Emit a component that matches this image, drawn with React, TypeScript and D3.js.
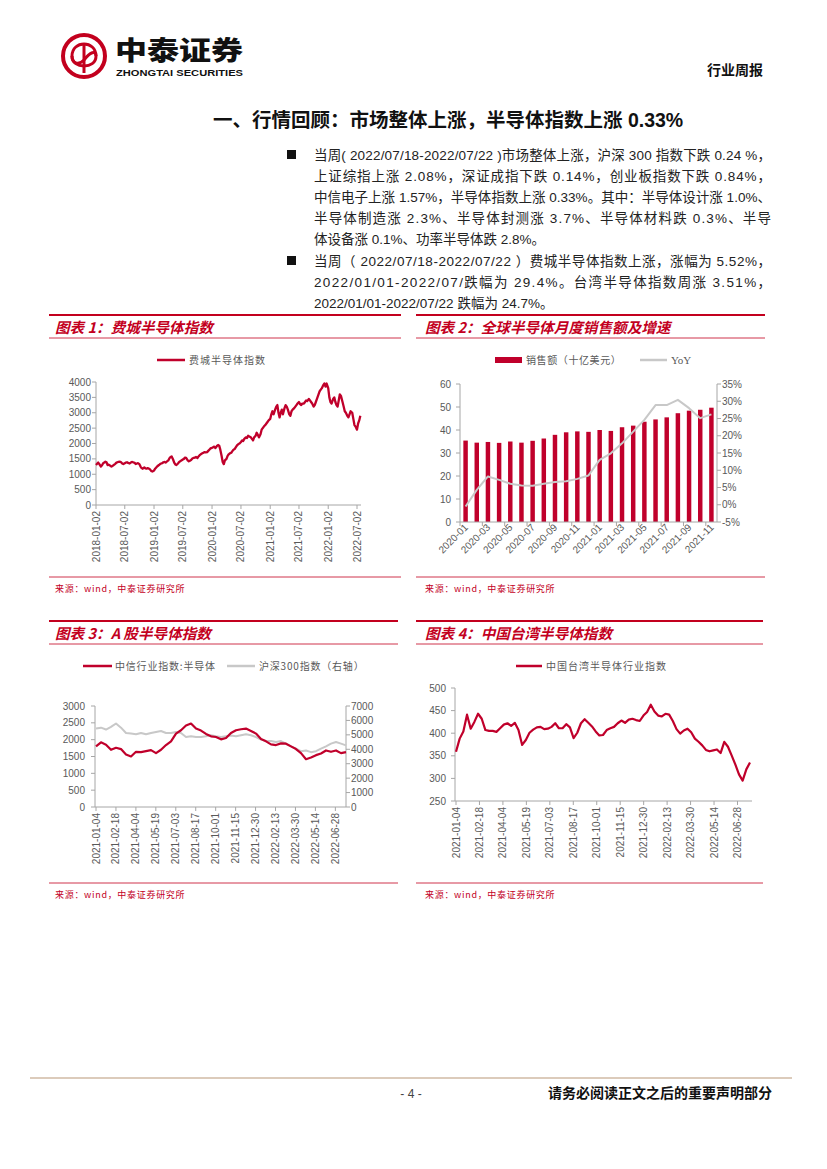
import React from 'react';
import * as d3 from 'd3';

const RED = '#c0002b';
const PANEL_RED = '#c3001e';
const GRAY_TXT = '#595959';
const AXIS = '#a6a6a6';
const LINE_GRAY = '#c8c8c8';
const NUM = '"Liberation Sans", Arial, sans-serif';
const CJK = '"Noto Sans CJK SC", "Liberation Sans", sans-serif';
const MIX = '"Liberation Sans", "Noto Sans CJK SC", sans-serif';

// ---------- text ----------
const titleText = '一、行情回顾：市场整体上涨，半导体指数上涨 0.33%';
const bullet1 = [
  '当周( 2022/07/18-2022/07/22 )市场整体上涨，沪深 300 指数下跌 0.24 %，',
  '上证综指上涨 2.08%，深证成指下跌 0.14%，创业板指数下跌 0.84%，',
  '中信电子上涨 1.57%，半导体指数上涨 0.33%。其中：半导体设计涨 1.0%、',
  '半导体制造涨 2.3%、半导体封测涨 3.7%、半导体材料跌 0.3%、半导',
  '体设备涨 0.1%、功率半导体跌 2.8%。',
];
const bullet2 = [
  '当周（ 2022/07/18-2022/07/22 ）费城半导体指数上涨，涨幅为 5.52%，',
  '2022/01/01-2022/07/跌幅为 29.4%。台湾半导体指数周涨 3.51%，',
  '2022/01/01-2022/07/22 跌幅为 24.7%。',
];

// ---------- chart 1: Philadelphia semiconductor index (weekly, 4 per month) ----------
const soxYears = [2018, 2019, 2020, 2021, 2022];
const sox2018 = [1300, 1340, 1380, 1330, 1250, 1290, 1360, 1380, 1410, 1390, 1300, 1310, 1280, 1250, 1270, 1300,
  1330, 1370, 1390, 1400, 1410, 1390, 1350, 1330, 1360, 1380, 1390, 1370, 1350, 1380, 1400, 1390,
  1370, 1330, 1350, 1360, 1330, 1250, 1200, 1180, 1220, 1190, 1180, 1200, 1180, 1150, 1100, 1090];
const sox2019 = [1120, 1180, 1220, 1260, 1300, 1330, 1350, 1360, 1390, 1400, 1380, 1410, 1450, 1520, 1560, 1580,
  1480, 1380, 1320, 1300, 1350, 1400, 1420, 1450, 1480, 1500, 1540, 1530, 1450, 1420, 1440, 1460,
  1520, 1530, 1540, 1560, 1530, 1580, 1620, 1650, 1680, 1700, 1720, 1710, 1720, 1760, 1800, 1840];
const sox2020 = [1860, 1880, 1900, 1850, 1920, 1950, 1930, 1800, 1600, 1400, 1330, 1450, 1500, 1600, 1650, 1680,
  1700, 1750, 1800, 1820, 1900, 1950, 1980, 2000, 2050, 2100, 2080, 2150, 2200, 2180, 2250, 2230,
  2200, 2150, 2100, 2200, 2250, 2350, 2280, 2200, 2300, 2450, 2500, 2550, 2600, 2650, 2700, 2750];
const sox2021 = [2800, 2950, 3050, 2950, 3100, 3200, 3250, 3000, 2850, 3000, 3100, 2950, 3150, 3250, 3200, 3100,
  2950, 2900, 3050, 3100, 3150, 3200, 3250, 3300, 3350, 3280, 3250, 3300, 3300, 3350, 3400, 3380,
  3450, 3400, 3350, 3300, 3200, 3250, 3350, 3450, 3600, 3700, 3750, 3800, 3900, 3950, 3850, 3950];
const sox2022 = [3800, 3500, 3350, 3300, 3450, 3500, 3350, 3250, 3200, 3400, 3600, 3550, 3350, 3200, 3050, 3000,
  2900, 2850, 2950, 3050, 3000, 2800, 2600, 2550, 2450, 2650, 2750, 2900];
const soxTicks = ['2018-01-02', '2018-07-02', '2019-01-02', '2019-07-02', '2020-01-02', '2020-07-02',
  '2021-01-02', '2021-07-02', '2022-01-02', '2022-07-02'];
const soxYTicks = [0, 500, 1000, 1500, 2000, 2500, 3000, 3500, 4000];

// ---------- chart 2: global semiconductor monthly sales ----------
const salesMonths = ['2020-01', '2020-02', '2020-03', '2020-04', '2020-05', '2020-06', '2020-07', '2020-08',
  '2020-09', '2020-10', '2020-11', '2020-12', '2021-01', '2021-02', '2021-03', '2021-04', '2021-05', '2021-06',
  '2021-07', '2021-08', '2021-09', '2021-10', '2021-11'];
const salesValues = [35.4, 34.5, 34.8, 34.4, 35.0, 34.5, 35.3, 36.3, 37.9, 39.0, 39.4, 39.2, 40.0, 39.6, 41.2,
  41.9, 43.6, 44.6, 45.5, 47.3, 48.4, 48.8, 49.7];
const salesYoY = [-0.5, 4.3, 8.2, 7.2, 6.1, 5.6, 5.5, 6.1, 6.6, 6.8, 7.5, 8.5, 13.0, 14.9, 17.8, 21.2, 24.6,
  28.9, 28.9, 30.4, 28.0, 25.1, 26.2];
const salesLeftTicks = [0, 10, 20, 30, 40, 50, 60];
const salesRightTicks = [-5, 0, 5, 10, 15, 20, 25, 30, 35];

// ---------- chart 3: A-share semiconductor vs CSI 300 (evenly spaced samples) ----------
const csiSemi = [1800, 1920, 1850, 1700, 1760, 1720, 1560, 1500, 1640, 1630, 1660, 1690, 1600, 1700, 1840,
  1950, 2180, 2280, 2420, 2480, 2330, 2270, 2170, 2100, 2080, 2010, 2050, 2200, 2280, 2310, 2330, 2260,
  2180, 2020, 1950, 1860, 1840, 1890, 1880, 1800, 1720, 1600, 1420, 1470, 1540, 1590, 1680, 1640, 1680,
  1600, 1630];
const csi300 = [5440, 5500, 5370, 5550, 5790, 5500, 5130, 5090, 5040, 5130, 5040, 5130, 5200, 5270, 5130,
  5130, 5200, 5130, 4850, 4900, 4850, 4850, 4900, 4970, 4900, 4850, 4900, 4950, 4900, 4970, 5040, 4970,
  4850, 4670, 4570, 4570, 4500, 4570, 4390, 4200, 4040, 3870, 3920, 3800, 3870, 4040, 4200, 4390, 4500,
  4390, 4270];
const dayTicks = ['2021-01-04', '2021-02-18', '2021-04-04', '2021-05-19', '2021-07-03', '2021-08-17',
  '2021-10-01', '2021-11-15', '2021-12-30', '2022-02-13', '2022-03-30', '2022-05-14', '2022-06-28'];
const semiLeftTicks = [0, 500, 1000, 1500, 2000, 2500, 3000];
const semiRightTicks = [0, 1000, 2000, 3000, 4000, 5000, 6000, 7000];

// ---------- chart 4: Taiwan semiconductor index (weekly) ----------
const twSemi = [359, 388, 404, 441, 410, 425, 443, 432, 407, 405, 405, 403, 411, 419, 422, 416, 423, 407,
  374, 385, 401, 408, 413, 414, 409, 410, 414, 422, 411, 411, 420, 413, 389, 401, 422, 431, 423, 415,
  404, 395, 396, 407, 411, 414, 422, 428, 423, 430, 432, 429, 427, 439, 447, 463, 448, 439, 437, 443,
  441, 427, 409, 399, 406, 410, 402, 388, 381, 373, 363, 360, 362, 364, 356, 381, 370, 351, 331, 309,
  295, 320, 335];
const twTicks = [250, 300, 350, 400, 450, 500];

const parse = d3.timeParse('%Y-%m-%d');
const START = parse('2021-01-04') as Date;
const END = parse('2022-07-22') as Date;

function Panel({ x0, x1, top, title, bottom, srcY, tx }: any) {
  return (
    <g>
      <line x1={x0} x2={x1} y1={top} y2={top} stroke={PANEL_RED} strokeWidth={2} />
      <text x={tx} y={top + 18} fill={PANEL_RED} fontFamily={CJK} fontSize={14.6} fontWeight="bold"
        fontStyle="italic">{title}</text>
      <line x1={x0} x2={x1} y1={top + 23} y2={top + 23} stroke={PANEL_RED} strokeWidth={0.8} />
      <line x1={x0} x2={x1} y1={bottom} y2={bottom} stroke={PANEL_RED} strokeWidth={0.8} />
      <text x={tx} y={srcY} fill={PANEL_RED} fontFamily={CJK} fontSize={9} letterSpacing={0.7}>来源：wind，中泰证券研究所</text>
    </g>
  );
}

function YAxis({ x, scale, ticks, side, fmt, labelGap }: any) {
  const dir = side === 'left' ? -1 : 1;
  const [r0, r1] = scale.range();
  return (
    <g>
      <line x1={x} x2={x} y1={r0} y2={r1} stroke={AXIS} strokeWidth={1} />
      {ticks.map((t: number) => (
        <g key={t}>
          <line x1={x} x2={x + dir * 4} y1={scale(t)} y2={scale(t)} stroke={AXIS} strokeWidth={1} />
          <text x={x + dir * labelGap} y={scale(t) + 3.6} textAnchor={side === 'left' ? 'end' : 'start'}
            fill={GRAY_TXT} fontFamily={NUM} fontSize={10}>{fmt ? fmt(t) : t}</text>
        </g>
      ))}
    </g>
  );
}

function TimeXAxis({ y, scale, ticks, x0, x1 }: any) {
  return (
    <g>
      <line x1={x0} x2={x1} y1={y} y2={y} stroke={AXIS} strokeWidth={1} />
      {ticks.map((t: string) => {
        const xx = scale(parse(t));
        return (
          <g key={t}>
            <line x1={xx} x2={xx} y1={y} y2={y + 4} stroke={AXIS} strokeWidth={1} />
            <text transform={`translate(${xx + 3.5},${y + 6}) rotate(-90)`} textAnchor="end" fill={GRAY_TXT}
              fontFamily={NUM} fontSize={10}>{t}</text>
          </g>
        );
      })}
    </g>
  );
}

function Chart1() {
  const x = d3.scaleTime().domain([parse('2018-01-02') as Date, parse('2022-07-02') as Date]).range([96, 357]);
  const y = d3.scaleLinear().domain([0, 4000]).range([505, 382]);
  const all = [sox2018, sox2019, sox2020, sox2021, sox2022];
  const data = all.flatMap((vals, yi) =>
    vals.map((v, i) => ({ d: new Date(soxYears[yi], Math.floor(i / 4), 2 + 7 * (i % 4)), v })));
  const line = d3.line<any>().x((p) => x(p.d)).y((p) => y(p.v)).curve(d3.curveLinear);
  return (
    <g>
      <Panel x0={49} x1={401} top={315} title="图表 1：费城半导体指数" bottom={577} srcY={592} tx={55} />
      <line x1={157} x2={185} y1={360} y2={360} stroke={RED} strokeWidth={2.5} />
      <text x={189} y={363.5} fill={GRAY_TXT} fontFamily={CJK} fontSize={10} letterSpacing={1}>费城半导体指数</text>
      <YAxis x={96} scale={y} ticks={soxYTicks} side="left" labelGap={5} />
      <TimeXAxis y={505} scale={x} ticks={soxTicks} x0={96} x1={361} />
      <path d={line(data) as string} fill="none" stroke={RED} strokeWidth={2.3} strokeLinejoin="round" />
    </g>
  );
}

function Chart2() {
  const x = d3.scaleBand<string>().domain(salesMonths).range([460, 717]).paddingInner(0.6).paddingOuter(0.3);
  const yL = d3.scaleLinear().domain([0, 60]).range([522, 384]);
  const yR = d3.scaleLinear().domain([-5, 35]).range([522, 384]);
  const bw = x.bandwidth();
  const line = d3.line<number>().x((_, i) => (x(salesMonths[i]) as number) + bw / 2).y((v) => yR(v));
  const gap = (x.step() * x.paddingInner()) / 2;
  return (
    <g>
      <Panel x0={416} x1={765} top={315} title="图表 2：全球半导体月度销售额及增速" bottom={577} srcY={592} tx={425} />
      <rect x={495} y={357} width={27} height={6} fill={RED} />
      <text x={526} y={363.5} fill={GRAY_TXT} fontFamily={CJK} fontSize={10} letterSpacing={0.6}>销售额（十亿美元）</text>
      <line x1={640} x2={667} y1={360} y2={360} stroke={LINE_GRAY} strokeWidth={2.5} />
      <text x={671} y={364} fill={GRAY_TXT} fontFamily='"Liberation Serif", serif' fontSize={11}>YoY</text>
      {salesValues.map((v, i) => (
        <rect key={i} x={x(salesMonths[i])} y={yL(v)} width={bw} height={yL(0) - yL(v)} fill={RED} />
      ))}
      <YAxis x={460} scale={yL} ticks={salesLeftTicks} side="left" labelGap={9} />
      <YAxis x={717} scale={yR} ticks={salesRightTicks} side="right" labelGap={5} fmt={(t: number) => `${t}%`} />
      <line x1={460} x2={717} y1={522} y2={522} stroke={AXIS} strokeWidth={1} />
      {salesMonths.map((m, i) => {
        if (i % 2 !== 0) return null;
        const tx = (x(m) as number) - gap;
        const cx = (x(m) as number) + bw / 2;
        return (
          <g key={m}>
            <line x1={tx} x2={tx} y1={522} y2={526} stroke={AXIS} strokeWidth={1} />
            <text transform={`translate(${cx + 3},${528}) rotate(-45)`} textAnchor="end" fill={GRAY_TXT}
              fontFamily={NUM} fontSize={10}>{m}</text>
          </g>
        );
      })}
      <path d={line(salesYoY) as string} fill="none" stroke={LINE_GRAY} strokeWidth={2} strokeLinejoin="round" />
    </g>
  );
}

function Chart3() {
  const x = d3.scaleTime().domain([START, END]).range([96, 346]);
  const yL = d3.scaleLinear().domain([0, 3000]).range([807, 706]);
  const yR = d3.scaleLinear().domain([0, 7000]).range([807, 706]);
  const t = d3.scaleLinear().domain([0, csiSemi.length - 1]).range([START.getTime(), END.getTime()]);
  const lineL = d3.line<number>().x((_, i) => x(new Date(t(i)))).y((v) => yL(v));
  const lineR = d3.line<number>().x((_, i) => x(new Date(t(i)))).y((v) => yR(v));
  return (
    <g>
      <Panel x0={49} x1={398} top={621} title="图表 3：A 股半导体指数" bottom={883} srcY={898} tx={55} />
      <line x1={83} x2={112} y1={666} y2={666} stroke={RED} strokeWidth={2.5} />
      <text x={115} y={669.5} fill={GRAY_TXT} fontFamily={CJK} fontSize={10} letterSpacing={0.8}>中信行业指数:半导体</text>
      <line x1={227} x2={255} y1={666} y2={666} stroke={LINE_GRAY} strokeWidth={2.5} />
      <text x={259} y={669.5} fill={GRAY_TXT} fontFamily={CJK} fontSize={10} letterSpacing={0.8}>沪深300指数（右轴）</text>
      <YAxis x={95} scale={yL} ticks={semiLeftTicks} side="left" labelGap={10} />
      <YAxis x={346} scale={yR} ticks={semiRightTicks} side="right" labelGap={5} />
      <TimeXAxis y={807} scale={x} ticks={dayTicks} x0={95} x1={346} />
      <path d={lineR(csi300) as string} fill="none" stroke={LINE_GRAY} strokeWidth={2} strokeLinejoin="round" />
      <path d={lineL(csiSemi) as string} fill="none" stroke={RED} strokeWidth={2.2} strokeLinejoin="round" />
    </g>
  );
}

function Chart4() {
  const x = d3.scaleTime().domain([START, END]).range([456, 750]);
  const y = d3.scaleLinear().domain([250, 500]).range([801, 688]);
  const t = d3.scaleLinear().domain([0, twSemi.length - 1]).range([START.getTime(), END.getTime()]);
  const line = d3.line<number>().x((_, i) => x(new Date(t(i)))).y((v) => y(v));
  return (
    <g>
      <Panel x0={416} x1={763} top={621} title="图表 4：中国台湾半导体指数" bottom={883} srcY={898} tx={425} />
      <line x1={516} x2={542} y1={666} y2={666} stroke={RED} strokeWidth={2.5} />
      <text x={546} y={669.5} fill={GRAY_TXT} fontFamily={CJK} fontSize={10} letterSpacing={1}>中国台湾半导体行业指数</text>
      <YAxis x={455} scale={y} ticks={twTicks} side="left" labelGap={9} />
      <TimeXAxis y={801} scale={x} ticks={dayTicks} x0={455} x1={752} />
      <path d={line(twSemi) as string} fill="none" stroke={RED} strokeWidth={2.2} strokeLinejoin="round" />
    </g>
  );
}

function Header() {
  return (
    <g>
      <circle cx={84} cy={56} r={21} fill="none" stroke={PANEL_RED} strokeWidth={4} />
      <path d="M84,44 C78,44 72,48 72,56 C72,63 78,66 84,60 C90,52 96,50 96,56 C96,63 90,66 84,66"
        fill="none" stroke={PANEL_RED} strokeWidth={3} />
      <path d="M84,44 C90,44 96,48 96,56 M84,66 C78,66 72,63 72,56" fill="none" stroke={PANEL_RED} strokeWidth={3} />
      <line x1={84} x2={84} y1={44} y2={73} stroke={PANEL_RED} strokeWidth={3} />
      <text x={115} y={60} fontFamily={CJK} fontWeight={900} fontSize={26} fill="#111" textLength={128}
        lengthAdjust="spacingAndGlyphs">中泰证券</text>
      <text x={116} y={76} fontFamily={NUM} fontWeight="bold" fontSize={9.5} fill="#111" textLength={127}
        lengthAdjust="spacingAndGlyphs">ZHONGTAI SECURITIES</text>
      <text x={763} y={75} textAnchor="end" fontFamily={CJK} fontWeight="bold" fontSize={14} fill="#111">行业周报</text>
    </g>
  );
}

function Body() {
  const X = 314;
  const R = 771;
  const lines1 = bullet1.map((s, i) => ({ s, y: 160 + 21 * i, just: i < 4 }));
  const lines2 = bullet2.map((s, i) => ({ s, y: 266 + 21 * i, just: i < 2 }));
  return (
    <g>
      <text x={213} y={127} fontFamily={MIX} fontWeight="bold" fontSize={19.5} fill="#111">{titleText}</text>
      <rect x={287} y={150} width={9} height={9} fill="#111" />
      <rect x={287} y={256} width={9} height={9} fill="#111" />
      {[...lines1, ...lines2].map((l, i) => (
        <text key={i} x={X} y={l.y} fontFamily={MIX} fontSize={13.5} fill="#222"
          {...(l.just ? { textLength: R - X, lengthAdjust: 'spacing' } : {})}>{l.s}</text>
      ))}
    </g>
  );
}

function Footer() {
  return (
    <g>
      <line x1={30} x2={792} y1={1078} y2={1078} stroke="#dccbbb" strokeWidth={2} />
      <text x={411} y={1098} textAnchor="middle" fontFamily={NUM} fontSize={12} fill="#444">- 4 -</text>
      <text x={772} y={1098} textAnchor="end" fontFamily={CJK} fontWeight="bold" fontSize={14} fill="#111">请务必阅读正文之后的重要声明部分</text>
    </g>
  );
}

export default function App() {
  return (
    <svg width={827} height={1169} viewBox="0 0 827 1169"
      style={{ position: 'absolute', left: 0, top: 0, background: '#fff' }}>
      <rect width={827} height={1169} fill="#fff" />
      <Header />
      <Body />
      <Chart1 />
      <Chart2 />
      <Chart3 />
      <Chart4 />
      <Footer />
    </svg>
  );
}
